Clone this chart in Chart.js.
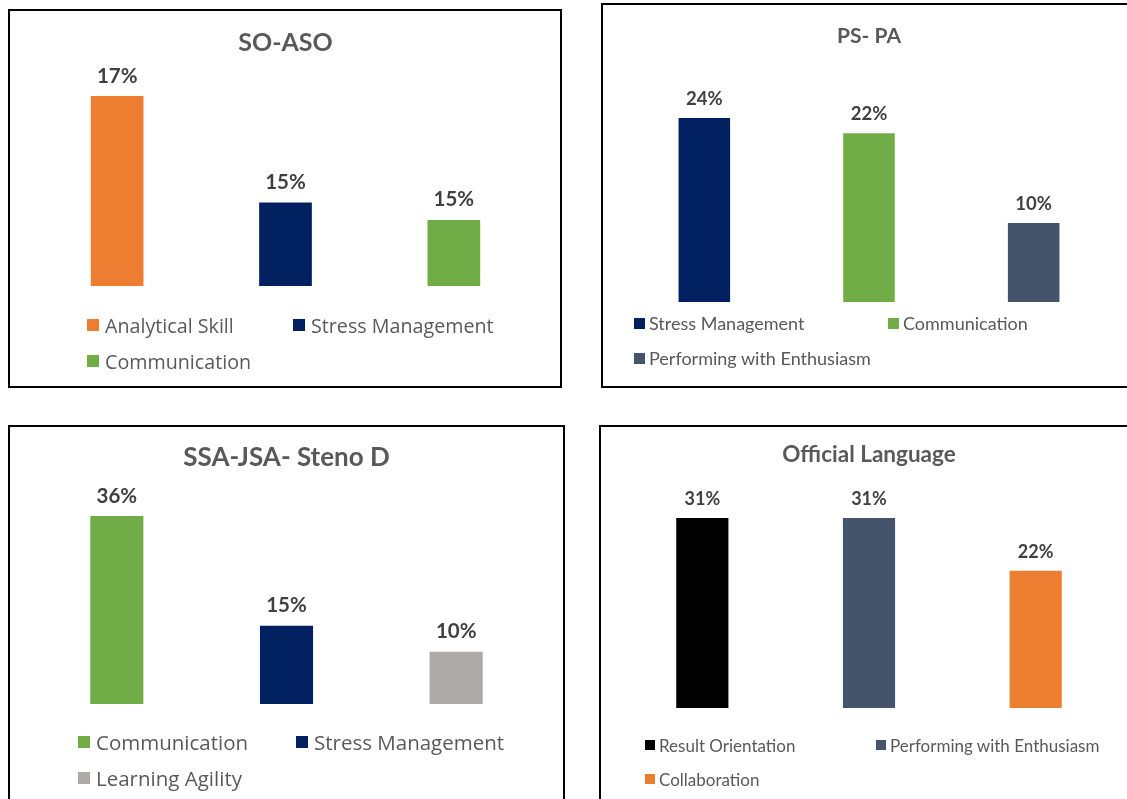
<!DOCTYPE html>
<html>
<head>
<meta charset="utf-8">
<script src="https://cdn.jsdelivr.net/npm/chart.js@4.4.1/dist/chart.umd.min.js"></script>
<style>
    html, body { margin: 0; padding: 0; background: #fff; width: 1127px; height: 799px; overflow: hidden; position: relative; }
    .panel { position: absolute; border: 2px solid #000; box-sizing: border-box; background: #fff; overflow: hidden; }
    .panel canvas { position: absolute; left: 0; top: 0; }
    .lg-item { position: absolute; display: flex; align-items: center; color: #595959; white-space: nowrap; }
    .lg-sw { display: inline-block; flex: none; }
</style>
</head>
<body>
<div class="panel" id="p1" style="left:8px;top:9px;width:554px;height:379px"><canvas id="c1"></canvas></div>
<div class="panel" id="p2" style="left:601px;top:3px;width:540px;height:385px"><canvas id="c2"></canvas></div>
<div class="panel" id="p3" style="left:8px;top:425px;width:557px;height:400px"><canvas id="c3"></canvas></div>
<div class="panel" id="p4" style="left:599px;top:425px;width:540px;height:400px"><canvas id="c4"></canvas></div>

<script>
/* =============================================
 * Competency charts — four small bar panels
 * ============================================= */

// ── SO-ASO ──
const soLabels = ['Analytical Skill', 'Stress Management', 'Communication'];
const soValues = [16.7, 15.3, 15.07];
const soColors = ['#ed7d31', '#002060', '#70ad47'];

// ── PS- PA ──
const psLabels = ['Stress Management', 'Communication', 'Performing with Enthusiasm'];
const psValues = [24, 22, 10.3];
const psColors = ['#002060', '#70ad47', '#44546a'];

// ── SSA-JSA- Steno D ──
const ssaLabels = ['Communication', 'Stress Management', 'Learning Agility'];
const ssaValues = [36, 15, 10];
const ssaColors = ['#70ad47', '#002060', '#aeaaaa'];

// ── Official Language ──
const olLabels = ['Result Orientation', 'Performing with Enthusiasm', 'Collaboration'];
const olValues = [31, 31, 22.4];
const olColors = ['#000000', '#44546a', '#ed7d31'];

// ── Value labels above bars ──
const valueLabels = {
    id: 'valueLabels',
    afterDatasetsDraw(chart, args, opts) {
        const ctx = chart.ctx;
        const meta = chart.getDatasetMeta(0);
        const data = chart.data.datasets[0].data;
        ctx.save();
        ctx.font = `bold ${opts.size}px ${opts.family}`;
        ctx.fillStyle = '#404040';
        ctx.textAlign = 'center';
        ctx.textBaseline = 'middle';
        meta.data.forEach((bar, i) => {
            ctx.fillText(Math.round(data[i]) + '%', bar.x, bar.y - opts.offset);
        });
        ctx.restore();
    }
};

// ── HTML legend in two columns ──
function buildLegend(chart, lg) {
    const labels = chart.data.labels;
    const colors = chart.data.datasets[0].backgroundColor;
    labels.forEach((txt, i) => {
        const col = i % 2, row = Math.floor(i / 2);
        const el = document.createElement('div');
        el.className = 'lg-item';
        el.style.left = lg.cols[col] + 'px';
        el.style.top = (lg.rows[row] - 15) + 'px';
        el.style.height = '30px';
        el.style.font = `${lg.size}px ${lg.family}`;
        el.innerHTML = `<span class="lg-sw" style="width:${lg.box}px;height:${lg.box}px;background:${colors[i]};margin-right:${lg.gap}px"></span><span>${txt}</span>`;
        document.body.appendChild(el);
    });
}

function makePanel(id, title, labels, values, colors, cfg) {
    const canvas = document.getElementById(id);
    canvas.width = cfg.w; canvas.height = cfg.h;
    const chart = new Chart(canvas.getContext('2d'), {
        type: 'bar',
        data: { labels, datasets: [{ data: values, backgroundColor: colors, barPercentage: 0.313, categoryPercentage: 1 }] },
        options: {
            responsive: false, animation: false,
            layout: { padding: { left: cfg.padL, right: cfg.padR, top: 0, bottom: cfg.padB } },
            plugins: {
                legend: { display: false },
                tooltip: { enabled: false },
                title: { display: true, text: title, color: '#595959',
                    font: { family: cfg.titleFamily, size: cfg.titleSize, weight: 'bold' },
                    padding: { top: cfg.titleTop, bottom: cfg.titleBottom } },
                valueLabels: { size: cfg.valSize, family: cfg.valFamily, offset: cfg.valOffset }
            },
            scales: {
                x: { display: false },
                y: { display: false, min: cfg.yMin, max: Math.max(...values) }
            }
        },
        plugins: [valueLabels]
    });
    buildLegend(chart, cfg.legend);
    return chart;
}

makePanel('c1', 'SO-ASO', soLabels, soValues, soColors, {
    w: 550, h: 375, padL: 23, padR: 22, padB: 100, yMin: 14.2,
    titleFamily: 'Lato', titleSize: 25, titleTop: 17, titleBottom: 38,
    valSize: 20.5, valFamily: 'Lato', valOffset: 20,
    legend: { cols: [87, 293], rows: [325, 361], size: 19.7, family: '"Open Sans"', box: 12, gap: 6 }
});
makePanel('c2', 'PS- PA', psLabels, psValues, psColors, {
    w: 536, h: 381, padL: 19, padR: 23, padB: 84, yMin: 0,
    titleFamily: 'Lato', titleSize: 21, titleTop: 18.4, titleBottom: 69.4,
    valSize: 18.5, valFamily: 'Lato', valOffset: 19,
    legend: { cols: [634, 888], rows: [323, 358], size: 18, family: 'Lato', box: 11, gap: 4 }
});
makePanel('c3', 'SSA-JSA- Steno D', ssaLabels, ssaValues, ssaColors, {
    w: 553, h: 396, padL: 22, padR: 22, padB: 119, yMin: 0,
    titleFamily: 'Lato', titleSize: 26, titleTop: 15.4, titleBottom: 42.4,
    valSize: 20.5, valFamily: 'Lato', valOffset: 20,
    legend: { cols: [78, 296], rows: [742, 778], size: 20.5, family: '"Open Sans"', box: 12, gap: 6 }
});
makePanel('c4', 'Official Language', olLabels, olValues, olColors, {
    w: 536, h: 396, padL: 18, padR: 18, padB: 115, yMin: 0,
    titleFamily: 'Lato', titleSize: 22.5, titleTop: 14.5, titleBottom: 49.5,
    valSize: 18, valFamily: 'Lato', valOffset: 19,
    legend: { cols: [645, 876], rows: [745, 779], size: 17, family: 'Lato', box: 10, gap: 4 }
});
</script>
</body>
</html>
